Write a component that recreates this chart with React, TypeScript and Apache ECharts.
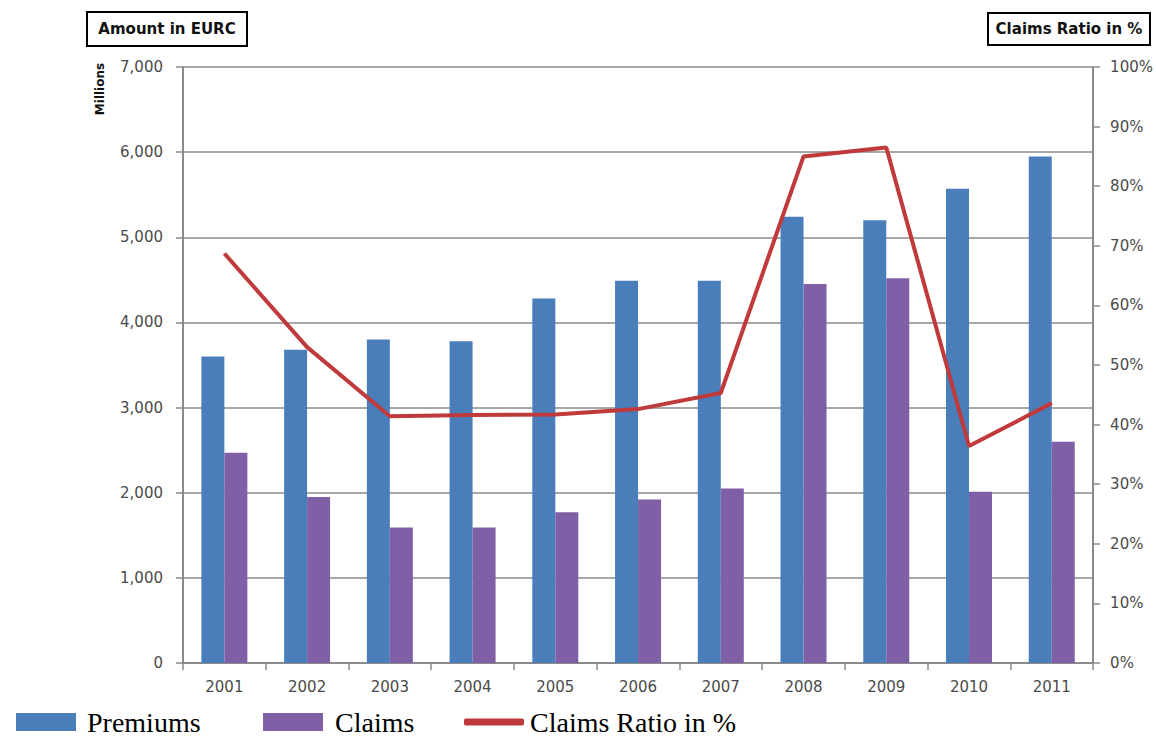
import React, { useEffect, useRef } from "react";
import * as echarts from "echarts";

const years = ["2001", "2002", "2003", "2004", "2005", "2006", "2007", "2008", "2009", "2010", "2011"];
const premiums = [3600, 3680, 3800, 3780, 4280, 4490, 4490, 5240, 5200, 5570, 5950];
const claims = [2470, 1950, 1590, 1590, 1770, 1920, 2050, 4450, 4520, 2010, 2600];
const claimsRatio = [68.7, 53.0, 41.4, 41.6, 41.7, 42.6, 45.3, 85.0, 86.5, 36.4, 43.6];

const AXIS_FONT = "DejaVu Sans";
const LEGEND_FONT = "Liberation Serif";

export default function App() {
  const ref = useRef<HTMLDivElement>(null);

  useEffect(() => {
    if (!ref.current) return;
    const chart = echarts.init(ref.current, null, { renderer: "svg" });
    const axisLine = { show: true, lineStyle: { color: "#8a8a8a", width: 2 } };
    const axisTick = { show: true, length: 7, lineStyle: { color: "#8a8a8a", width: 1.5 } };
    const labelStyle = { color: "#4a4a4a", fontFamily: AXIS_FONT, fontSize: 15 };
    const legendText = { color: "#000", fontFamily: LEGEND_FONT, fontSize: 28 };
    const legendTop = 703;

    chart.setOption({
      animation: false,
      backgroundColor: "#ffffff",
      grid: { left: 183, right: 61, top: 67, bottom: 84, containLabel: false },
      legend: [
        {
          data: ["Premiums"], left: 11, top: legendTop, itemWidth: 60, itemHeight: 18, itemGap: 0,
          icon: "rect", textStyle: { ...legendText, padding: [0, 0, 0, 6] },
        },
        {
          data: ["Claims"], left: 258, top: legendTop, itemWidth: 60, itemHeight: 18, itemGap: 0,
          icon: "rect", textStyle: { ...legendText, padding: [0, 0, 0, 7] },
        },
        {
          data: ["Claims Ratio in %"], left: 459, top: legendTop, itemWidth: 60, itemHeight: 7, itemGap: 0,
          icon: "roundRect", textStyle: { ...legendText, padding: [0, 0, 0, 1] },
        },
      ],
      xAxis: {
        type: "category",
        data: years,
        boundaryGap: true,
        axisLine,
        axisTick: { ...axisTick, alignWithLabel: false },
        axisLabel: { ...labelStyle, margin: 16 },
        splitLine: { show: false },
      },
      yAxis: [
        {
          type: "value",
          min: 0,
          max: 7000,
          interval: 1000,
          axisLine,
          axisTick,
          axisLabel: {
            ...labelStyle,
            margin: 20,
            formatter: (v: number) => v.toLocaleString("en-US"),
          },
          splitLine: { show: true, lineStyle: { color: "#8a8a8a", width: 1.5 } },
        },
        {
          type: "value",
          position: "right",
          min: 0,
          max: 100,
          interval: 10,
          axisLine,
          axisTick,
          axisLabel: { ...labelStyle, margin: 17, formatter: "{value}%" },
          splitLine: { show: false },
        },
      ],
      series: [
        {
          name: "Premiums",
          type: "bar",
          data: premiums,
          barWidth: 23,
          barGap: "0%",
          itemStyle: { color: "#4a7ebb" },
        },
        {
          name: "Claims",
          type: "bar",
          data: claims,
          barWidth: 23,
          barGap: "0%",
          itemStyle: { color: "#7f5fa6" },
        },
        {
          name: "Claims Ratio in %",
          type: "line",
          yAxisIndex: 1,
          data: claimsRatio,
          symbol: "none",
          lineStyle: { color: "#c0393b", width: 4 },
          itemStyle: { color: "#c0393b" },
          z: 5,
        },
      ],
      graphic: [
        {
          type: "rect",
          shape: { x: 87, y: 12, width: 160, height: 34 },
          style: { fill: "#fff", stroke: "#000", lineWidth: 2 },
        },
        {
          type: "text",
          x: 167,
          y: 29,
          style: {
            text: "Amount in EURC",
            fill: "#111",
            font: `bold 15px "${AXIS_FONT}"`,
            align: "center",
            verticalAlign: "middle",
          },
        },
        {
          type: "rect",
          shape: { x: 988, y: 13, width: 162, height: 32 },
          style: { fill: "#fff", stroke: "#000", lineWidth: 2 },
        },
        {
          type: "text",
          x: 1069,
          y: 29,
          style: {
            text: "Claims Ratio in %",
            fill: "#111",
            font: `bold 15px "${AXIS_FONT}"`,
            align: "center",
            verticalAlign: "middle",
          },
        },
        {
          type: "text",
          x: 100,
          y: 89,
          rotation: Math.PI / 2,
          style: {
            text: "Millions",
            fill: "#111",
            font: `bold 12px "${AXIS_FONT}"`,
            align: "center",
            verticalAlign: "middle",
          },
        },
      ],
    });
    return () => chart.dispose();
  }, []);

  return (
    <div
      ref={ref}
      style={{ position: "fixed", left: 0, top: 0, width: 1156, height: 747, background: "#fff" }}
    />
  );
}
